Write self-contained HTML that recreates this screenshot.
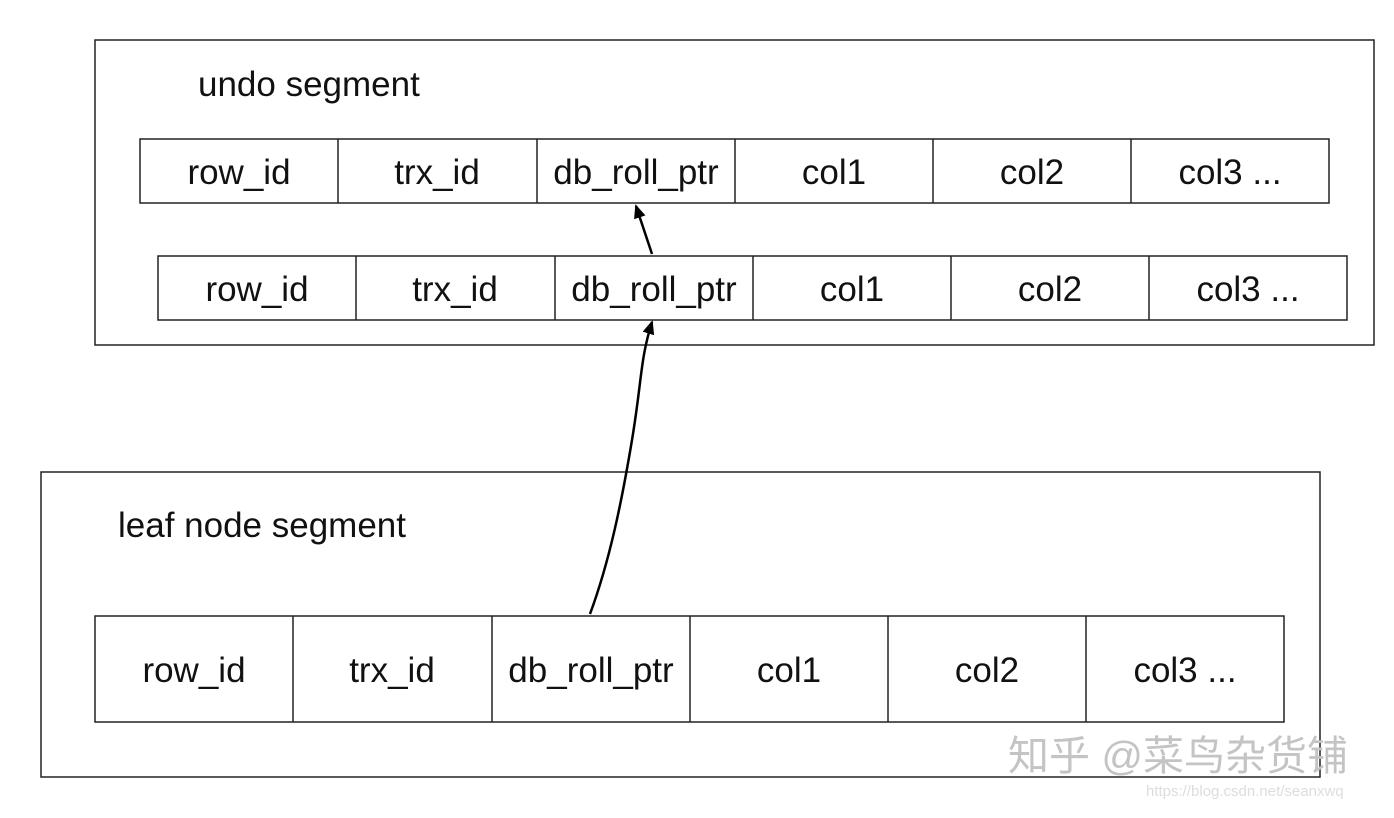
<!DOCTYPE html><html><head><style>body{margin:0;background:#fff;}svg{display:block}text{font-family:"Liberation Sans",sans-serif;fill:#111}</style></head><body>
<svg width="1394" height="818" xmlns="http://www.w3.org/2000/svg">
<defs><marker id="a" markerWidth="14" markerHeight="14" refX="12" refY="6" orient="auto" markerUnits="userSpaceOnUse"><path d="M0,0 L14,6 L0,12 z" fill="#000"/></marker></defs>
<g fill="none" stroke="#222" stroke-width="1.5">
<rect x="95" y="40" width="1279" height="305"/>
<rect x="41" y="472" width="1279" height="305"/>
</g>
<text x="198" y="96" font-size="35">undo segment</text>
<text x="118" y="537" font-size="35">leaf node segment</text>
<g fill="none" stroke="#222" stroke-width="1.5">
<rect x="140" y="139" width="1189" height="64"/>
<path d="M338,139V203M537,139V203M735,139V203M933,139V203M1131,139V203"/>
<rect x="158" y="256" width="1189" height="64"/>
<path d="M356,256V320M555,256V320M753,256V320M951,256V320M1149,256V320"/>
<rect x="95" y="616" width="1189" height="106"/>
<path d="M293,616V722M492,616V722M690,616V722M888,616V722M1086,616V722"/>
</g>
<g font-size="35" text-anchor="middle">
<text x="239" y="184">row_id</text><text x="437" y="184">trx_id</text><text x="636" y="184">db_roll_ptr</text><text x="834" y="184">col1</text><text x="1032" y="184">col2</text><text x="1230" y="184">col3 ...</text>
<text x="257" y="301">row_id</text><text x="455" y="301">trx_id</text><text x="654" y="301">db_roll_ptr</text><text x="852" y="301">col1</text><text x="1050" y="301">col2</text><text x="1248" y="301">col3 ...</text>
<text x="194" y="682">row_id</text><text x="392" y="682">trx_id</text><text x="591" y="682">db_roll_ptr</text><text x="789" y="682">col1</text><text x="987" y="682">col2</text><text x="1185" y="682">col3 ...</text>
</g>
<g fill="none" stroke="#000" stroke-width="2.5">
<path d="M590,614 C610,560 622,500 632,440 C642,380 640,360 652,322" marker-end="url(#a)"/>
<path d="M652,254 L636,206" marker-end="url(#a)"/>
</g>
<text x="1008" y="770" font-size="41" style="fill:#c4c4c4;font-family:'Liberation Sans','Noto Sans CJK SC',sans-serif">知乎 @菜鸟杂货铺</text>
<text x="1146" y="796" font-size="15" style="fill:#ddd">https://blog.csdn.net/seanxwq</text>
</svg></body></html>
